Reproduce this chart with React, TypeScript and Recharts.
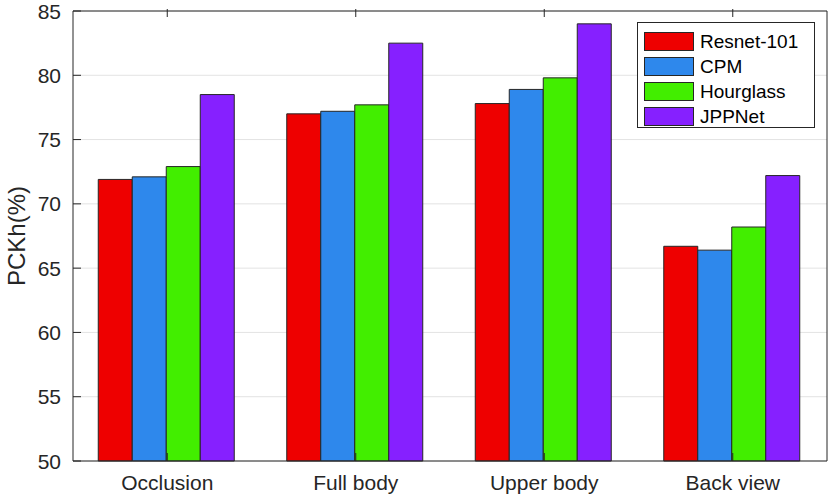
import React from 'react';
import { BarChart, Bar, XAxis, YAxis, CartesianGrid } from 'recharts';

const categories = ['Occlusion', 'Full body', 'Upper body', 'Back view'];
const resnet = [71.9, 77.0, 77.8, 66.7];
const cpm = [72.1, 77.2, 78.9, 66.4];
const hourglass = [72.9, 77.7, 79.8, 68.2];
const jppnet = [78.5, 82.5, 84.0, 72.2];
const yTicks = [50, 55, 60, 65, 70, 75, 80, 85];

const series = [
  { key: 'resnet', name: 'Resnet-101', color: '#EE0000' },
  { key: 'cpm', name: 'CPM', color: '#2E88EC' },
  { key: 'hourglass', name: 'Hourglass', color: '#42EE00' },
  { key: 'jppnet', name: 'JPPNet', color: '#8620FF' },
];

const data = categories.map((name, i) => ({
  name,
  resnet: resnet[i],
  cpm: cpm[i],
  hourglass: hourglass[i],
  jppnet: jppnet[i],
}));

const FONT = '"Liberation Sans", Arial, Helvetica, sans-serif';
const AXIS = '#262626';
const TICK_LEN = 8;

const LeftTick = (props: any) => {
  const { x, y, payload } = props;
  const ax = x + 12;
  return (
    <g>
      <line x1={ax} y1={y} x2={ax + TICK_LEN} y2={y} stroke={AXIS} strokeWidth={1} />
      <text x={x} y={y} dy={7.5} textAnchor="end" fill={AXIS} fontSize={21} fontFamily={FONT}>
        {payload.value}
      </text>
    </g>
  );
};

const RightTick = (props: any) => {
  const { x, y } = props;
  return <line x1={x} y1={y} x2={x - TICK_LEN} y2={y} stroke={AXIS} strokeWidth={1} />;
};

const BottomTick = (props: any) => {
  const { x, y, payload } = props;
  return (
    <g>
      <line x1={x} y1={y} x2={x} y2={y - TICK_LEN} stroke={AXIS} strokeWidth={1} />
      <text x={x} y={y} dy={29} textAnchor="middle" fill={AXIS} fontSize={21} fontFamily={FONT}>
        {payload.value}
      </text>
    </g>
  );
};

const TopTick = (props: any) => {
  const { x, y } = props;
  return <line x1={x} y1={y} x2={x} y2={y + TICK_LEN} stroke={AXIS} strokeWidth={1} />;
};

const LegendBox = () => (
  <div
    style={{
      position: 'absolute',
      left: 637,
      top: 22,
      width: 176,
      height: 98,
      border: `1px solid ${AXIS}`,
      background: '#fff',
      fontFamily: FONT,
      fontSize: 19,
      color: '#000',
      paddingTop: 6,
    }}
  >
    {series.map((s) => (
      <div key={s.key} style={{ display: 'flex', alignItems: 'center', height: 25, marginLeft: 6 }}>
        <div
          style={{
            width: 48,
            height: 17,
            background: s.color,
            border: `1px solid ${AXIS}`,
            marginRight: 6,
          }}
        />
        <span>{s.name}</span>
      </div>
    ))}
  </div>
);

export default function App() {
  return (
    <div style={{ position: 'absolute', left: 0, top: 0, width: 830, height: 497, background: '#fff' }}>
      <BarChart
        width={830}
        height={497}
        data={data}
        margin={{ top: 10, right: 2, left: 13, bottom: 0 }}
        barCategoryGap="13.4%"
        barGap={0}
      >
        <CartesianGrid horizontal vertical={false} stroke="#E3E3E3" yAxisId="left" xAxisId="bottom" />
        <XAxis
          xAxisId="bottom"
          dataKey="name"
          height={36}
          axisLine={{ stroke: AXIS }}
          tickLine={false}
          tickSize={0}
          tickMargin={0}
          tick={<BottomTick />}
          interval={0}
        />
        <XAxis
          xAxisId="top"
          orientation="top"
          dataKey="name"
          height={1}
          axisLine={{ stroke: AXIS }}
          tickLine={false}
          tickSize={0}
          tick={<TopTick />}
          interval={0}
        />
        <YAxis
          yAxisId="left"
          width={60}
          domain={[50, 85]}
          ticks={yTicks}
          interval={0}
          axisLine={{ stroke: AXIS }}
          tickLine={false}
          tickSize={0}
          tickMargin={12}
          tick={<LeftTick />}
          label={{
            value: 'PCKh(%)',
            angle: -90,
            position: 'insideLeft',
            offset: 3,
            style: { textAnchor: 'middle', fontSize: 24, fontFamily: FONT, fill: AXIS },
          }}
        />
        <YAxis
          yAxisId="right"
          orientation="right"
          width={1}
          domain={[50, 85]}
          ticks={yTicks}
          interval={0}
          axisLine={{ stroke: AXIS }}
          tickLine={false}
          tickSize={0}
          tick={<RightTick />}
        />
        {series.map((s) => (
          <Bar
            key={s.key}
            xAxisId="bottom"
            yAxisId="left"
            dataKey={s.key}
            name={s.name}
            fill={s.color}
            stroke={AXIS}
            strokeWidth={1}
            isAnimationActive={false}
          />
        ))}
      </BarChart>
      <LegendBox />
    </div>
  );
}
